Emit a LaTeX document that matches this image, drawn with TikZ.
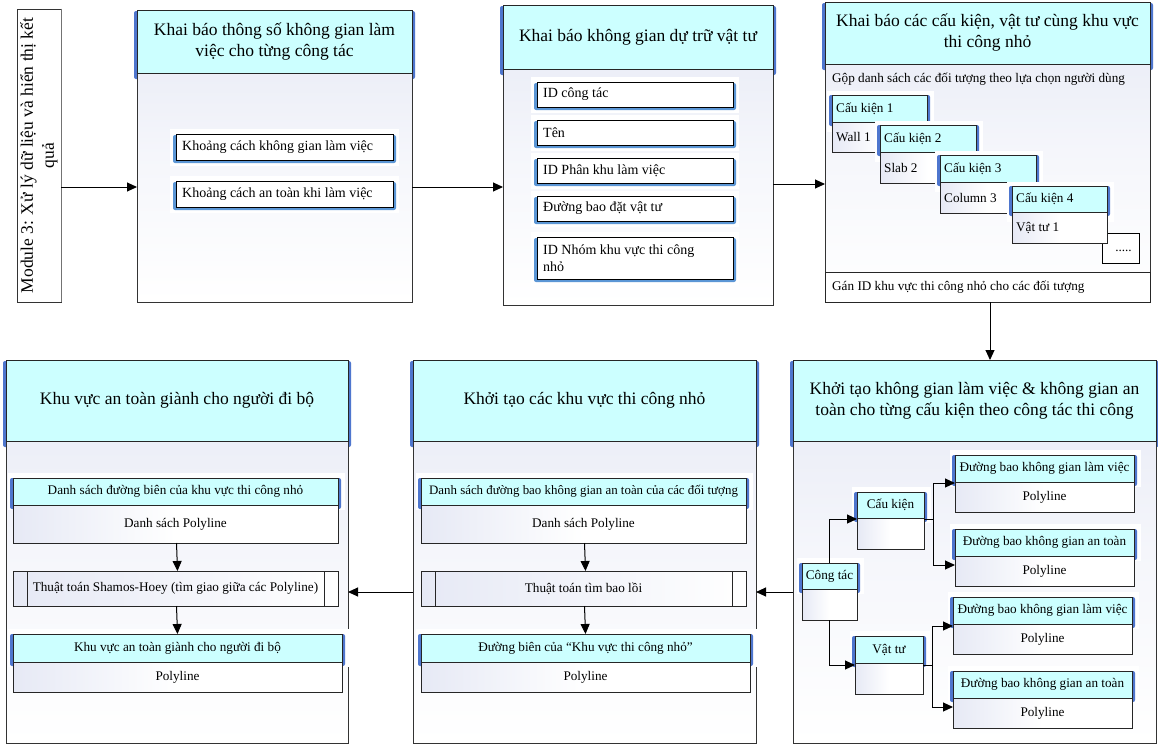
\documentclass[tikz,border=0pt]{standalone}
\usepackage{fontspec}
\setmainfont{Liberation Serif}
\usetikzlibrary{fit,arrows.meta}
\definecolor{hcyan}{RGB}{204,255,255}
\definecolor{bevelblue}{RGB}{78,118,206}
\definecolor{itemblue}{RGB}{91,150,213}
\definecolor{bodygray}{RGB}{230,233,245}
\newcommand\fttitle{\fontsize{17.5}{21}\selectfont}
\newcommand\ftitem{\fontsize{14}{16.5}\selectfont}
\newcommand\ftsmall{\fontsize{13.2}{15.5}\selectfont}
\tikzset{
  panelbody/.style={draw=black!80,line width=0.8pt,top color=bodygray,bottom color=white,middle color=white!60!bodygray,inner sep=0pt,outer sep=0pt},
  hdr/.style={draw=black!85,fill=hcyan,line width=0.8pt,inner sep=0pt,outer sep=0pt},
  subbody/.style={draw=black!85,line width=0.8pt,left color=bodygray,right color=white,middle color=white,inner sep=0pt,outer sep=0pt},
  itemnode/.style={draw=black,fill=white,line width=0.8pt,inner sep=0pt,outer sep=0pt},
  procnode/.style={draw=black!85,line width=0.8pt,left color=bodygray,right color=white,inner sep=0pt,outer sep=0pt},
  arr/.style={-{Triangle[length=10pt,width=9pt]},line width=1pt}
}
\newcommand{\bigpanel}[7]{%
  \fill[bevelblue,rounded corners=2pt] (#2-3,#3+1) rectangle (#4+3,#5+6);
  \node[panelbody,fit={(#2,#3)(#4,#6)}] (#1) {};
  \node[hdr,fit={(#2,#3)(#4,#5)}] (#1-h) {};
  \node[font=\fttitle,align=center,inner sep=0pt] (#1-t) at (#1-h.center) {#7};
}
\newcommand{\itembox}[6]{%
  \fill[white] (#2-6,#3-5) rectangle (#4+6,#5+6);
  \fill[itemblue,rounded corners=2pt] (#2-3,#3+1) rectangle (#4+3,#5+3);
  \node[itemnode,fit={(#2,#3)(#4,#5)}] (#1) {};
  \node[font=\ftitem,anchor=west,align=left,inner sep=0pt] (#1-t) at ([xshift=6pt]#1.west) {#6};
}
\newcommand{\subbox}[8]{%
  \fill[white] (#2-5,#3-5) rectangle (#4+7,#5+5);
  \fill[bevelblue,rounded corners=2pt] (#2-3,#3) rectangle (#4+3,#5+4);
  \node[subbody,fit={(#2,#5)(#4,#6)}] (#1) {};
  \node[hdr,fit={(#2,#3)(#4,#5)}] (#1-h) {};
  \node[font=\ftsmall,inner sep=0pt] (#1-ht) at (#1-h.center) {#7};
  \node[font=\ftsmall,inner sep=0pt] (#1-bt) at (#1.center) {#8};
}
\newcommand{\card}[8]{%
  \fill[white] (#2-5,#3-4) rectangle (#4+7,#5+10);
  \fill[bevelblue,rounded corners=2pt] (#2-3,#3) rectangle (#4+3,#5+4);
  \node[subbody,fit={(#2,#5)(#4,#6)}] (#1) {};
  \node[hdr,fit={(#2,#3)(#4,#5)}] (#1-h) {};
  \node[font=\ftsmall,anchor=west,inner sep=0pt] (#1-ht) at ([xshift=4pt]#1-h.west) {#7};
  \node[font=\ftsmall,anchor=west,inner sep=0pt] (#1-bt) at ([xshift=4pt]#1.west) {#8};
}
\begin{document}
\begin{tikzpicture}[x=1pt,y=-1pt]
\useasboundingbox[fill=white] (0,0) rectangle (1158,744);

% Module 3
\node[draw=black!80,line width=0.9pt,fill=white,inner sep=0pt,fit={(17,9)(61,302)}] (m3) {};
\draw[black!55,line width=1.5pt] (m3.north east) -- (m3.south east);
\node[rotate=90,font=\fttitle,align=center,inner sep=0pt] (m3-t) at (m3.center) {Module 3: Xử lý dữ liệu và hiển thị kết\\quả};

% Panel 1
\bigpanel{p1}{137}{10}{412}{73}{302}{Khai báo thông số không gian làm\\việc cho từng công tác}
\itembox{i11}{176}{134}{393}{160}{Khoảng cách không gian làm việc}
\itembox{i12}{176}{181}{393}{207}{Khoảng cách an toàn khi làm việc}

% Panel 2
\bigpanel{p2}{503}{5}{773}{69}{305}{Khai báo không gian dự trữ vật tư}
\itembox{i21}{537}{82}{733}{107}{ID công tác}
\itembox{i22}{537}{120}{733}{145}{Tên}
\itembox{i23}{537}{158}{733}{183}{ID Phân khu làm việc}
\itembox{i24}{537}{196}{733}{221}{Đường bao đặt vật tư}
\itembox{i25}{537}{237}{733}{279}{ID Nhóm khu vực thi công\\nhỏ}

% Panel 3
\bigpanel{p3}{825}{2}{1150}{64}{302}{Khai báo các cấu kiện, vật tư cùng khu vực\\thi công nhỏ}
\node[font=\ftsmall,anchor=west,inner sep=0pt] (p3-g) at (832,79) {Gộp danh sách các đối tượng theo lựa chọn người dùng};
\node[draw=black!85,fill=white,line width=0.8pt,inner sep=0pt,fit={(825,272)(1150,302)}] (p3-b) {};
\node[font=\ftsmall,anchor=west,inner sep=0pt] (p3-bt) at (832,287) {Gán ID khu vực thi công nhỏ cho các đối tượng};
\card{c1}{832}{95}{927}{122}{152}{Cấu kiện 1}{Wall 1}
\card{c2}{880}{125}{976}{152}{183}{Cấu kiện 2}{Slab 2}
\card{c3}{940}{155}{1036}{182}{213}{Cấu kiện 3}{Column 3}
\node[draw=black,fill=white,line width=0.8pt,inner sep=0pt,fit={(1102,233)(1139,263)}] (dots) {};
\node[font=\ftsmall,inner sep=0pt] (dots-t) at ([xshift=3pt,yshift=-3pt]dots.center) {.....};
\card{c4}{1012}{186}{1107}{212}{243}{Cấu kiện 4}{Vật tư 1}

% Panel 4
\bigpanel{p4}{793}{360}{1156}{441}{743}{Khởi tạo không gian làm việc \& không gian an\\toàn cho từng cấu kiện theo công tác thi công}
\subbox{ct}{802}{563}{857}{589}{620}{Công tác}{}
\subbox{ck}{857}{492}{924}{518}{549}{Cấu kiện}{}
\subbox{vt}{855}{636}{923}{663}{694}{Vật tư}{}
\subbox{w1}{955}{455}{1134}{482}{512}{Đường bao không gian làm việc}{Polyline}
\subbox{s1}{955}{529}{1134}{556}{586}{Đường bao không gian an toàn}{Polyline}
\subbox{w2}{953}{597}{1132}{624}{654}{Đường bao không gian làm việc}{Polyline}
\subbox{s2}{953}{671}{1132}{698}{728}{Đường bao không gian an toàn}{Polyline}

% Panel 5
\bigpanel{p5}{413}{360}{756}{441}{743}{Khởi tạo các khu vực thi công nhỏ}
\subbox{a5}{421}{478}{746}{505}{543}{\fontsize{12.9}{15}\selectfont Danh sách đường bao không gian an toàn của các đối tượng}{Danh sách Polyline}
\node[procnode,fit={(421,571)(746,606)}] (pr5) {};
\draw[black!85,line width=0.8pt] ([xshift=14pt]pr5.north west) -- ([xshift=14pt]pr5.south west);
\draw[black!85,line width=0.8pt] ([xshift=-14pt]pr5.north east) -- ([xshift=-14pt]pr5.south east);
\node[font=\ftsmall,inner sep=0pt] (pr5-t) at (pr5.center) {Thuật toán tìm bao lồi};
\subbox{b5}{421}{634}{750}{662}{692}{Đường biên của “Khu vực thi công nhỏ”}{Polyline}

% Panel 6
\bigpanel{p6}{6}{360}{348}{441}{743}{Khu vực an toàn giành cho người đi bộ}
\subbox{a6}{13}{478}{338}{505}{543}{Danh sách đường biên của khu vực thi công nhỏ}{Danh sách Polyline}
\node[procnode,fit={(13,571)(338,606)}] (pr6) {};
\draw[black!85,line width=0.8pt] ([xshift=14pt]pr6.north west) -- ([xshift=14pt]pr6.south west);
\draw[black!85,line width=0.8pt] ([xshift=-14pt]pr6.north east) -- ([xshift=-14pt]pr6.south east);
\node[font=\ftsmall,inner sep=0pt] (pr6-t) at (pr6.center) {Thuật toán Shamos-Hoey (tìm giao giữa các Polyline)};
\subbox{b6}{13}{634}{342}{662}{692}{Khu vực an toàn giành cho người đi bộ}{Polyline}

% Connectors between panels
\draw[arr] (m3.east |- 0,187) -- (p1.west |- 0,187);
\draw[arr] (p1.east |- 0,187) -- (p2.west |- 0,187);
\draw[arr] (p2.east |- 0,184) -- (p3.west |- 0,184);
\draw[arr] (p3-b.south -| 990,0) -- (p4-h.north -| 990,0);
\draw[arr] (p4.west |- 0,592) -- (p5.east |- 0,592);
\draw[arr] (p5.west |- 0,592) -- (p6.east |- 0,592);

% Connectors in panel 4
\draw[arr] (ct-h.north) |- ([yshift=-1pt]ck-h.south west);
\draw[arr] (ct.south) |- ([yshift=-2pt]vt-h.south west);
\draw[arr] ([yshift=-1pt]ck-h.south east) -- ++(9,0) |- ([yshift=-1pt]w1-h.south west);
\draw[arr] ([yshift=-1pt]ck-h.south east) -- ++(9,0) |- ([yshift=-9pt]s1-h.south west);
\draw[arr] ([yshift=-2pt]vt-h.south east) -- ++(9,0) |- ([yshift=-2pt]w2-h.south west);
\draw[arr] ([yshift=-2pt]vt-h.south east) -- ++(9,0) |- ([yshift=-9pt]s2-h.south west);

% Connectors in panels 5 and 6
\draw[arr] ([xshift=1pt]a5.south) -- ([xshift=2pt]pr5.north);
\draw[arr] ([xshift=1pt]pr5.south) -- ([xshift=2pt]b5-h.north -| pr5.north);
\draw[arr] ([xshift=1pt]a6.south) -- ([xshift=2pt]pr6.north);
\draw[arr] ([xshift=1pt]pr6.south) -- ([xshift=2pt]b6-h.north -| pr6.north);
\end{tikzpicture}
\end{document}
